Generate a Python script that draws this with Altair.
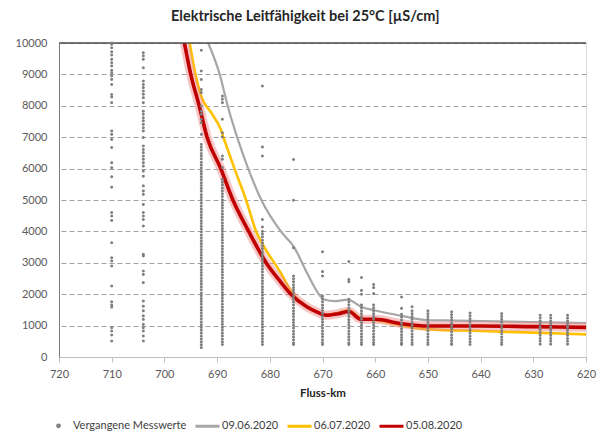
import altair as alt
import pandas as pd

TITLE = "Elektrische Leitfähigkeit bei 25°C [µS/cm]"
X_TITLE = "Fluss-km"
SERIES = ["Vergangene Messwerte", "09.06.2020", "06.07.2020", "05.08.2020"]
COLORS = ["#7f7f7f", "#a6a6a6", "#ffc000", "#c00000"]
X_TICKS = [620, 630, 640, 650, 660, 670, 680, 690, 700, 710, 720]
Y_TICKS = [0, 1000, 2000, 3000, 4000, 5000, 6000, 7000, 8000, 9000, 10000]
X_MIN, X_MAX = 620, 720
Y_MIN, Y_MAX = 0, 10000

# past measurements per station (Fluss-km)
STATION_KM = [710, 704, 693, 689, 681.4, 675.5, 670, 665, 662.6, 660.3,
              655, 653, 650, 645.5, 642, 636, 628.7, 626.7, 623.5]
STATION_VALUES = [
    [10000, 9960, 9850, 9720, 9620, 9480, 9370, 9270, 9130, 9050, 8950, 8840, 8680, 8360, 8280, 8100,
     7200, 7090, 6930, 6670, 6190, 6030, 5740, 5410, 4600, 4490, 4350, 3640, 3160, 3060, 2900,
     2260, 1760, 1660, 1590, 930, 830, 700, 510],
    [9690, 9590, 9480, 9210, 8790, 8680, 8580, 8470, 8370, 8260, 8100, 7830, 7730, 7620, 7520,
     7410, 7300, 7200, 6990, 6720, 6610, 6510, 6400, 6300, 6190, 6080, 5920, 5760, 5450, 5290,
     5180, 4860, 4600, 4490, 4380, 4170, 3270, 3220, 2740, 2630, 2370, 1780, 1620, 1470, 1310,
     1200, 1040, 930, 830, 670, 510],
    [9770, 9110, 8840, 8520, 8420, 7990, 7830, 7730, 7570, 7460, 7090,
     6770, 6680, 6590, 6480, 6400, 6310, 6200, 6110, 6020, 5910, 5830, 5740, 5650, 5550, 5460,
     5370, 5280, 5170, 5080, 4990, 4900, 4800, 4710, 4620, 4530, 4440, 4340, 4250, 4160, 4070,
     3980, 3880, 3790, 3700, 3610, 3520, 3420, 3330, 3240, 3150, 3060, 2960, 2870, 2780, 2690,
     2600, 2500, 2410, 2320, 2230, 2140, 2040, 1950, 1860, 1770, 1680, 1580, 1490, 1400, 1310,
     1220, 1120, 1030, 940, 850, 760, 660, 570, 480, 390, 300],
    [8310, 8210, 8100, 7570, 7140, 7010, 6400, 6300, 6030,
     5660, 5570, 5480, 5380, 5290, 5200, 5110, 5010, 4920, 4830, 4740, 4640, 4550, 4460, 4370,
     4270, 4180, 4090, 4000, 3900, 3810, 3720, 3630, 3530, 3440, 3350, 3260, 3160, 3070, 2980,
     2890, 2790, 2700, 2610, 2520, 2420, 2330, 2240, 2150, 2050, 1960, 1870, 1780, 1680, 1590,
     1500, 1410, 1310, 1220, 1130, 1040, 940, 850, 760, 670, 570, 480, 400],
    [8630, 6690, 6400, 4380, 4140, 4000, 3910, 3820, 3720, 3630, 3540, 3450, 3350, 3260, 3170,
     3080, 2980, 2890, 2800, 2710, 2610, 2520, 2430, 2340, 2240, 2150, 2060, 1970, 1870, 1780,
     1690, 1600, 1500, 1410, 1320, 1230, 1130, 1040, 950, 860, 760, 670, 580, 490, 400],
    [6290, 4990, 3480, 2580, 2490, 2400, 2300, 2210, 2120, 2030, 1930, 1840, 1750, 1660, 1560,
     1470, 1380, 1290, 1190, 1100, 1010, 920, 820, 730, 640, 550, 450, 400],
    [3350, 2720, 2580, 1940, 1850, 1760, 1660, 1570, 1480, 1390, 1290, 1200, 1110, 1020, 920,
     830, 740, 650, 550, 460, 400],
    [3040, 2470, 2400, 1840, 1750, 1660, 1560, 1470, 1380, 1290, 1190, 1100, 1010, 920, 820,
     730, 640, 550, 450, 400],
    [2530, 2120, 2000, 1660, 1570, 1470, 1380, 1290, 1200, 1100, 1010, 920, 830, 730, 640, 550,
     460, 400],
    [2310, 2210, 2020, 1660, 1570, 1470, 1380, 1290, 1200, 1100, 1010, 920, 830, 730, 640, 550,
     460, 400],
    [1910, 1550, 1360, 1270, 1180, 1080, 990, 900, 810, 710, 620, 530, 440, 400],
    [1600, 1470, 1380, 1290, 1200, 1100, 1010, 920, 830, 730, 640, 550, 460, 400],
    [1470, 1380, 1290, 1200, 1100, 1010, 920, 830, 730, 640, 550, 460, 400],
    [1440, 1350, 1260, 1170, 1070, 980, 890, 800, 700, 610, 520, 430, 400],
    [1400, 1310, 1220, 1130, 1030, 940, 850, 760, 660, 570, 480, 400],
    [1380, 1290, 1200, 1110, 1010, 920, 830, 740, 640, 550, 460, 400],
    [1330, 1240, 1150, 1060, 960, 870, 780, 690, 590, 500, 410],
    [1330, 1240, 1150, 1060, 960, 870, 780, 690, 590, 500, 410],
    [1330, 1240, 1150, 1060, 960, 870, 780, 690, 590, 500, 410],
]

# longitudinal profiles
KM_0906 = [691.7, 689.5, 688, 686.2, 684.1, 681.6, 677.9, 675.4, 673, 670.9, 669.7, 667.5,
           665.2, 662.7, 660, 655, 650, 645, 640, 630, 620]
VAL_0906 = [10000, 9000, 8000, 7000, 6000, 5000, 4000, 3500, 2700, 2050, 1830, 1780,
            1830, 1600, 1480, 1310, 1170, 1160, 1146, 1114, 1083]

KM_0607 = [695.2, 694.1, 693, 691, 689.3, 688.7, 686.7, 684.5, 682.6, 681.4, 678, 675.6, 673,
           670.5, 669.3, 667, 665, 662.7, 660, 655, 650, 640, 630, 620]
VAL_0607 = [10000, 9000, 8300, 7750, 7250, 6950, 6000, 5000, 4000, 3600, 2700, 2000, 1620,
            1400, 1350, 1410, 1490, 1230, 1170, 1000, 881, 828, 775, 722]

KM_0508 = [696.2, 695, 693.4, 691.9, 689.3, 687, 684, 680.7, 678, 676, 673, 670.9, 669.3, 667,
           665, 662.7, 660, 655, 650, 640, 630, 620]
VAL_0508 = [10000, 9000, 8000, 7000, 6000, 5000, 4000, 3000, 2400, 2000, 1600, 1420, 1330, 1380,
            1450, 1200, 1200, 1062, 987, 987, 966, 945]

FONT = "Lato"
# small dot drawn inside the unit symbol box, so that legend lines can be long
DOT_PATH = "M-0.075,0a0.075,0.075 0 1,0 0.15,0a0.075,0.075 0 1,0 -0.15,0Z"

pts_rows = []
for km, vals in zip(STATION_KM, STATION_VALUES):
    for v in vals:
        pts_rows.append({"km": km, "value": v, "series": SERIES[0]})
points_df = pd.DataFrame(pts_rows)

lines_df = pd.concat([
    pd.DataFrame({"km": KM_0906, "value": VAL_0906, "series": SERIES[1]}),
    pd.DataFrame({"km": KM_0607, "value": VAL_0607, "series": SERIES[2]}),
    pd.DataFrame({"km": KM_0508, "value": VAL_0508, "series": SERIES[3]}),
], ignore_index=True)

x_enc = alt.X("km:Q",
              scale=alt.Scale(domain=[X_MIN, X_MAX], reverse=True, nice=False, zero=False),
              axis=alt.Axis(values=X_TICKS, title=X_TITLE, grid=False, format="d",
                            labelFontSize=11, labelColor="#595959", labelFont=FONT,
                            labelPadding=6, tickSize=5, tickColor="#bfbfbf",
                            domainColor="#bfbfbf", titleFont=FONT, titleFontSize=11.5,
                            titleFontWeight="bold", titleColor="#262626", titlePadding=8,
                            labelFlush=False))
y_enc = alt.Y("value:Q",
              scale=alt.Scale(domain=[Y_MIN, Y_MAX], nice=False),
              axis=alt.Axis(values=Y_TICKS, title=None, grid=True, gridDash=[5, 3],
                            gridColor="#a0a0a0", gridWidth=1, ticks=False, labelPadding=12,
                            labelFontSize=11, labelColor="#595959", labelFont=FONT,
                            domainColor="#7f7f7f", format="d", labelOverlap=False))

top_border = alt.Chart(pd.DataFrame({"value": [Y_MAX]})).mark_rule(
    color="#4d4d4d", strokeWidth=1.6).encode(y=y_enc)

def line_layer(name, color, width, opacity=1.0):
    return alt.Chart(lines_df).transform_filter(
        alt.datum.series == name
    ).mark_line(interpolate="monotone", clip=True, color=color,
                strokeWidth=width, opacity=opacity).encode(x=x_enc, y=y_enc)

gray_line = line_layer(SERIES[1], COLORS[1], 2.2)
orange_line = line_layer(SERIES[2], COLORS[2], 2.6)
glow_line = line_layer(SERIES[3], "#f08c8c", 9, 0.5)
red_line = line_layer(SERIES[3], COLORS[3], 3.6)

leg = alt.Legend(title=None, orient="none", legendX=-14, legendY=369,
                 direction="horizontal", labelFont=FONT, labelFontSize=11,
                 labelColor="#404040", symbolStrokeWidth=3, symbolSize=576,
                 labelOffset=1, columnPadding=2)
points = alt.Chart(points_df).mark_point(strokeWidth=1.2, opacity=1, size=576).encode(
    x=x_enc, y=y_enc,
    fill=alt.Fill("series:N", scale=alt.Scale(domain=SERIES, range=COLORS), legend=leg),
    stroke=alt.Stroke("series:N", scale=alt.Scale(domain=SERIES, range=COLORS), legend=leg),
    shape=alt.Shape("series:N", scale=alt.Scale(domain=SERIES,
                    range=[DOT_PATH, "stroke", "stroke", "stroke"]), legend=leg),
)

chart = alt.layer(
    gray_line, orange_line, glow_line, red_line, top_border, points
).properties(
    width=527, height=314,
    title=alt.TitleParams(TITLE, font=FONT, fontSize=14.5, fontWeight="bold",
                          color="#262626", offset=12.5, frame="bounds", anchor="middle"),
    padding={"left": 7, "top": 1, "right": 2, "bottom": 2},
).configure_view(
    stroke="#d9d9d9"
).configure(background="white")

chart.save("out.html", embed_options={"renderer": "svg", "actions": False})
